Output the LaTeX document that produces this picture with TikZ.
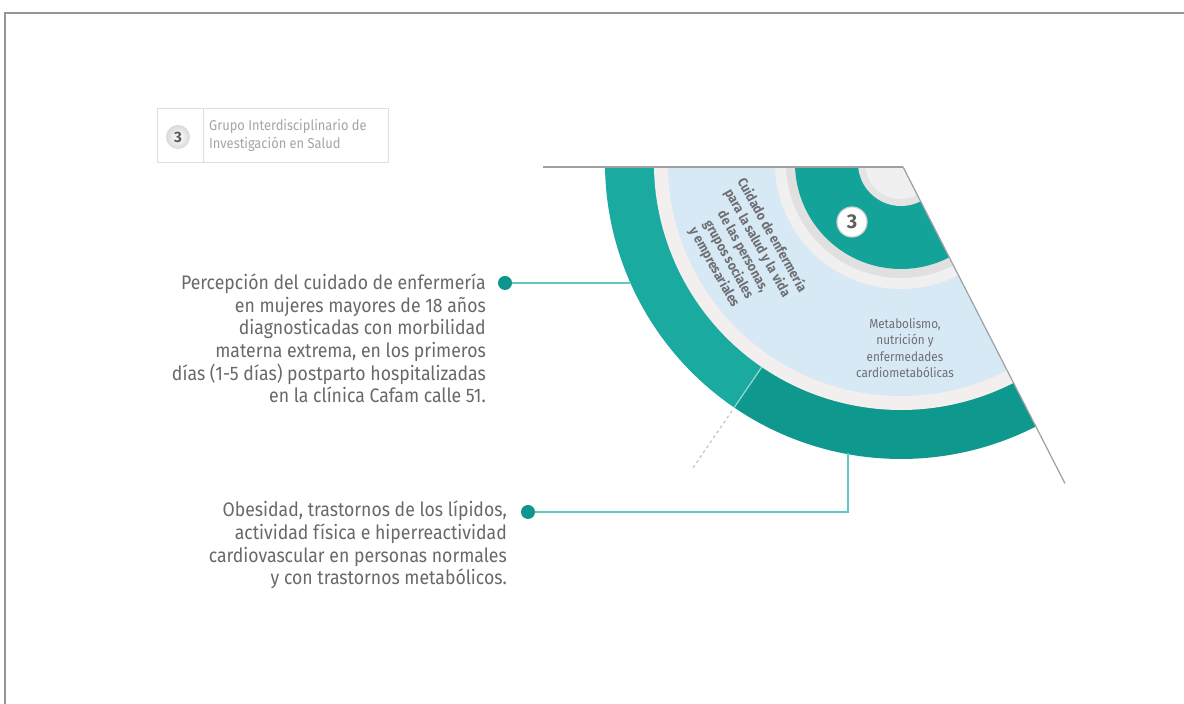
\documentclass[tikz,border=0pt]{standalone}
\usepackage{fontspec}
\setmainfont{Fira Sans}
\newfontfamily\cond[FakeStretch=0.9]{Fira Sans}
\definecolor{framegray}{RGB}{150,150,150}
\definecolor{boxgray}{RGB}{222,222,222}
\definecolor{hdrtext}{RGB}{165,165,165}
\definecolor{txtgray}{RGB}{105,105,105}
\definecolor{labgray}{RGB}{110,110,115}
\definecolor{outerA}{RGB}{26,170,160}
\definecolor{outerB}{RGB}{14,152,142}
\definecolor{innerteal}{RGB}{20,163,152}
\definecolor{lightblue}{RGB}{214,233,245}
\definecolor{whitering}{RGB}{242,239,238}
\definecolor{grayringA}{RGB}{240,240,240}
\definecolor{grayringB}{RGB}{224,224,224}
\definecolor{centergray}{RGB}{228,228,228}
\definecolor{conncol}{RGB}{95,200,192}
\definecolor{dotcol}{RGB}{15,150,140}
\definecolor{linegray}{RGB}{160,160,160}
\definecolor{dashgray}{RGB}{200,200,200}
\tikzset{
  dotnode/.style={circle, fill=dotcol, minimum size=14pt, inner sep=0pt},
  conn/.style={draw=conncol, line width=2pt},
  bigtext/.style={anchor=east, align=right, inner sep=0pt, text=txtgray, font=\cond\fontsize{19.6}{22.6}\selectfont},
}
\begin{document}
\begin{tikzpicture}[x=1pt,y=1pt]
\useasboundingbox (0,0) rectangle (1184,704);
\fill[white] (0,0) rectangle (1184,704);
% page frame
\draw[framegray, line width=2pt] (5,0) -- (5,691) -- (1184,691);

% header box
\node[draw=boxgray, line width=0.8pt, minimum width=231pt, minimum height=54pt, anchor=south west, inner sep=0pt] (hdr) at (157,541) {};
\draw[boxgray, line width=0.8pt] (203,541) -- (203,595);
\node[circle, minimum size=24pt, inner sep=0pt, inner color=white, outer color=gray!30, text=gray!70!black, font=\bfseries\fontsize{15}{15}\selectfont] (hb) at (178,567) {3};
\node[anchor=west, align=left, inner sep=0pt, text=hdrtext, font=\cond\fontsize{14.3}{18}\selectfont] (ht) at (209,569) {Grupo Interdisciplinario de\\Investigación en Salud};

% wedge
\coordinate (C) at (901,541);
\begin{scope}
\clip (0,0) rectangle (1184,537);
\fill[outerA] (C) -- ++(170:296) arc[start angle=170, end angle=235.7, radius=296] -- cycle;
\fill[outerB] (C) -- ++(235.7:296) arc[start angle=235.7, end angle=297.1, radius=296] -- cycle;
\fill[whitering] (C) -- ++(170:247) arc[start angle=170, end angle=297.1, radius=247] -- cycle;
\fill[lightblue] (C) -- ++(170:233) arc[start angle=170, end angle=297.1, radius=233] -- cycle;
\fill[grayringA] (C) -- ++(170:126) arc[start angle=170, end angle=297.1, radius=126] -- cycle;
\fill[grayringB] (C) -- ++(170:115) arc[start angle=170, end angle=297.1, radius=115] -- cycle;
\fill[innerteal] (C) -- ++(170:106) arc[start angle=170, end angle=297.1, radius=106] -- cycle;
\fill[centergray] (C) -- ++(170:43) arc[start angle=170, end angle=297.1, radius=43] -- cycle;
\fill[gray!12] (C) -- ++(170:36) arc[start angle=170, end angle=297.1, radius=36] -- cycle;
\draw[white!55!outerA, line width=1.2pt] ([shift={(235.7:247)}]C) -- ([shift={(235.7:296)}]C);
\end{scope}

% radial lines
\draw[dashgray, dashed, line width=1.3pt] ([shift={(235.7:300)}]C) -- ([shift={(235.7:370)}]C);
\draw[linegray, line width=1.2pt] (543,537) -- (903,537);
\draw[linegray, line width=1.2pt] ([shift={(-62.9:4.5)}]C) -- ([shift={(-62.9:360)}]C);

% badge in ring
\node[circle, fill=white, draw=gray!35, line width=1.2pt, minimum size=30pt, inner sep=0pt, text=gray!75!black, font=\bfseries\fontsize{20}{20}\selectfont] (b3) at (852,482) {3};

% labels in the wedge
\node[rotate=-60.8, align=center, inner sep=0pt, text=labgray, font=\cond\bfseries\fontsize{13.6}{16.5}\selectfont] (lab1) at ([shift={(209.2:181)}]C) {Cuidado de enfermería\\para la salud y la vida\\de las personas,\\grupos sociales\\y empresariales};
\node[align=center, inner sep=0pt, text=labgray, font=\cond\fontsize{13}{16.3}\selectfont] (lab2) at (905,356) {Metabolismo,\\nutrición y\\enfermedades\\cardiometabólicas};

% left texts and connectors
\node[bigtext] (t1) at (486,365.5) {Percepción del cuidado de enfermería\\en mujeres mayores de 18 años\\diagnosticadas con morbilidad\\materna extrema, en los primeros\\días (1-5 días) postparto hospitalizadas\\en la clínica Cafam calle 51.};
\node[dotnode] (d1) at (505,421) {};
\coordinate (e1) at (630,421);
\draw[conn] (d1) -- (e1);

\node[bigtext] (t2) at (507,159) {Obesidad, trastornos de los lípidos,\\actividad física e hiperreactividad\\cardiovascular en personas normales\\y con trastornos metabólicos.};
\node[dotnode] (d2) at (528,192) {};
\coordinate (c2) at (848,192);
\coordinate (e2) at (848,251);
\draw[conn] (d2) -- (c2) -- (e2);
\end{tikzpicture}
\end{document}
